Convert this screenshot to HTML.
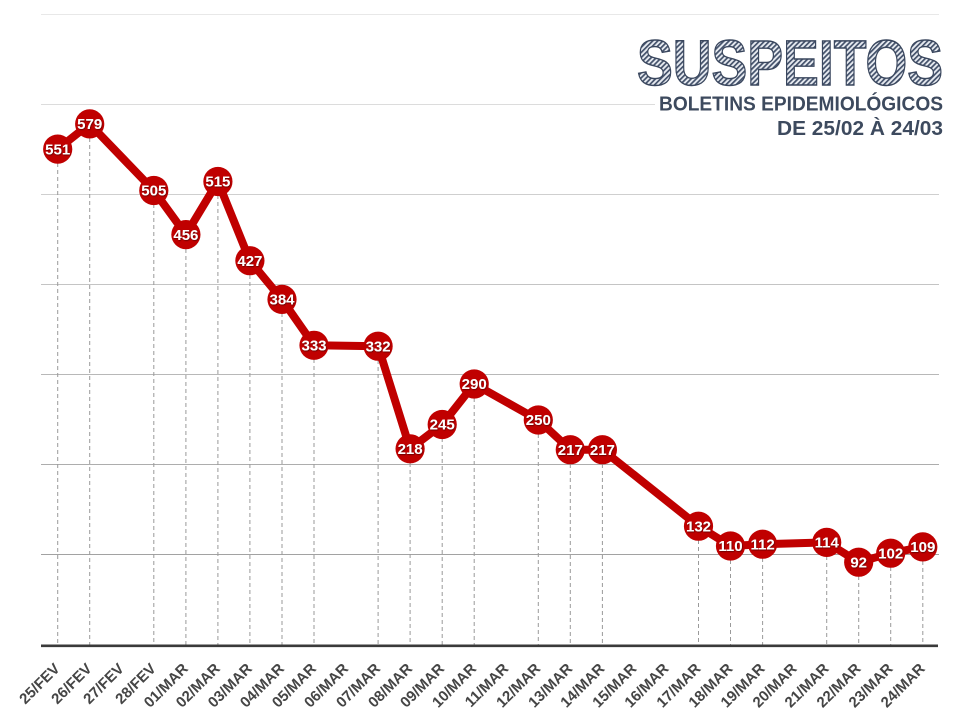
<!DOCTYPE html>
<html><head><meta charset="utf-8"><style>
html,body{margin:0;padding:0;background:#fff;}
svg{display:block;}
text{font-family:"Liberation Sans",Arial,sans-serif;font-weight:bold;}
.v{fill:#fff;font-size:15px;text-anchor:middle;}
.xl{fill:#454545;font-size:15px;text-anchor:end;}
</style></head><body>
<svg width="960" height="720" viewBox="0 0 960 720" xmlns="http://www.w3.org/2000/svg">
<defs>
<pattern id="hatch" width="3.6" height="3.6" patternUnits="userSpaceOnUse" patternTransform="rotate(45)">
<rect width="3.6" height="3.6" fill="#e6eaf0"/>
<rect width="1.7" height="3.6" fill="#44526b"/>
</pattern>
<filter id="sh" x="-20%" y="-20%" width="140%" height="140%"><feDropShadow dx="0.6" dy="0.8" stdDeviation="0.5" flood-color="#400" flood-opacity="0.8"/></filter>
</defs>
<rect width="960" height="720" fill="#fff"/>
<!-- grid -->
<g stroke-width="1">
<line x1="41" y1="14.5" x2="939" y2="14.5" stroke="#e8e8e8"/>
<line x1="41" y1="104.5" x2="939" y2="104.5" stroke="#dcdcdc"/>
<line x1="41" y1="194.5" x2="939" y2="194.5" stroke="#cfcfcf"/>
<line x1="41" y1="284.5" x2="939" y2="284.5" stroke="#c4c4c4"/>
<line x1="41" y1="374.5" x2="939" y2="374.5" stroke="#b8b8b8"/>
<line x1="41" y1="464.5" x2="939" y2="464.5" stroke="#adadad"/>
<line x1="41" y1="554.5" x2="939" y2="554.5" stroke="#a2a2a2"/>
</g>
<!-- dashed drop lines -->
<g stroke="#9a9a9a" stroke-width="1" stroke-dasharray="4,3">
<line x1="57.7" y1="149" x2="57.7" y2="645"/>
<line x1="89.7" y1="124" x2="89.7" y2="645"/>
<line x1="153.8" y1="190" x2="153.8" y2="645"/>
<line x1="185.9" y1="235" x2="185.9" y2="645"/>
<line x1="217.9" y1="181" x2="217.9" y2="645"/>
<line x1="249.9" y1="261" x2="249.9" y2="645"/>
<line x1="282" y1="299" x2="282" y2="645"/>
<line x1="314" y1="345" x2="314" y2="645"/>
<line x1="378.1" y1="346" x2="378.1" y2="645"/>
<line x1="410.1" y1="449" x2="410.1" y2="645"/>
<line x1="442.2" y1="424" x2="442.2" y2="645"/>
<line x1="474.2" y1="384" x2="474.2" y2="645"/>
<line x1="538.3" y1="420" x2="538.3" y2="645"/>
<line x1="570.3" y1="450" x2="570.3" y2="645"/>
<line x1="602.4" y1="450" x2="602.4" y2="645"/>
<line x1="698.5" y1="526" x2="698.5" y2="645"/>
<line x1="730.5" y1="546" x2="730.5" y2="645"/>
<line x1="762.6" y1="544" x2="762.6" y2="645"/>
<line x1="826.7" y1="542" x2="826.7" y2="645"/>
<line x1="858.7" y1="562" x2="858.7" y2="645"/>
<line x1="890.7" y1="553" x2="890.7" y2="645"/>
<line x1="922.8" y1="547" x2="922.8" y2="645"/>
</g>
<!-- baseline -->
<line x1="41" y1="645.8" x2="938" y2="645.8" stroke="#3a3a3a" stroke-width="2.6"/>
<!-- series line -->
<polyline fill="none" stroke="#c00000" stroke-width="8" stroke-linejoin="round" stroke-linecap="round"
points="57.7,149.1 89.7,123.9 153.8,190.5 185.9,234.6 217.9,181.5 249.9,260.7 282,299.4 314,345.3 378.1,346.2 410.1,448.8 442.2,424.5 474.2,384 538.3,420 570.3,449.7 602.4,449.7 698.5,526.2 730.5,546 762.6,544.2 826.7,542.4 858.7,562.2 890.7,553.2 922.8,546.9"/>
<!-- markers -->
<g fill="#c00000">
<circle cx="57.7" cy="149.1" r="14.6"/>
<circle cx="89.7" cy="123.9" r="14.6"/>
<circle cx="153.8" cy="190.5" r="14.6"/>
<circle cx="185.9" cy="234.6" r="14.6"/>
<circle cx="217.9" cy="181.5" r="14.6"/>
<circle cx="249.9" cy="260.7" r="14.6"/>
<circle cx="282" cy="299.4" r="14.6"/>
<circle cx="314" cy="345.3" r="14.6"/>
<circle cx="378.1" cy="346.2" r="14.6"/>
<circle cx="410.1" cy="448.8" r="14.6"/>
<circle cx="442.2" cy="424.5" r="14.6"/>
<circle cx="474.2" cy="384" r="14.6"/>
<circle cx="538.3" cy="420" r="14.6"/>
<circle cx="570.3" cy="449.7" r="14.6"/>
<circle cx="602.4" cy="449.7" r="14.6"/>
<circle cx="698.5" cy="526.2" r="14.6"/>
<circle cx="730.5" cy="546" r="14.6"/>
<circle cx="762.6" cy="544.2" r="14.6"/>
<circle cx="826.7" cy="542.4" r="14.6"/>
<circle cx="858.7" cy="562.2" r="14.6"/>
<circle cx="890.7" cy="553.2" r="14.6"/>
<circle cx="922.8" cy="546.9" r="14.6"/>
</g>
<g filter="url(#sh)">
<text class="v" x="57.7" y="154.3">551</text>
<text class="v" x="89.7" y="129.1">579</text>
<text class="v" x="153.8" y="195.7">505</text>
<text class="v" x="185.9" y="239.8">456</text>
<text class="v" x="217.9" y="186.7">515</text>
<text class="v" x="249.9" y="265.9">427</text>
<text class="v" x="282" y="304.6">384</text>
<text class="v" x="314" y="350.5">333</text>
<text class="v" x="378.1" y="351.4">332</text>
<text class="v" x="410.1" y="454">218</text>
<text class="v" x="442.2" y="429.7">245</text>
<text class="v" x="474.2" y="389.2">290</text>
<text class="v" x="538.3" y="425.2">250</text>
<text class="v" x="570.3" y="454.9">217</text>
<text class="v" x="602.4" y="454.9">217</text>
<text class="v" x="698.5" y="531.4">132</text>
<text class="v" x="730.5" y="551.2">110</text>
<text class="v" x="762.6" y="549.4">112</text>
<text class="v" x="826.7" y="547.6">114</text>
<text class="v" x="858.7" y="567.4">92</text>
<text class="v" x="890.7" y="558.4">102</text>
<text class="v" x="922.8" y="552.1">109</text>
</g>
<!-- x labels -->
<g>
<text class="xl" transform="translate(60.7,669.5) rotate(-45)">25/FEV</text>
<text class="xl" transform="translate(92.7,669.5) rotate(-45)">26/FEV</text>
<text class="xl" transform="translate(124.8,669.5) rotate(-45)">27/FEV</text>
<text class="xl" transform="translate(156.8,669.5) rotate(-45)">28/FEV</text>
<text class="xl" transform="translate(188.9,669.5) rotate(-45)">01/MAR</text>
<text class="xl" transform="translate(220.9,669.5) rotate(-45)">02/MAR</text>
<text class="xl" transform="translate(252.9,669.5) rotate(-45)">03/MAR</text>
<text class="xl" transform="translate(285,669.5) rotate(-45)">04/MAR</text>
<text class="xl" transform="translate(317,669.5) rotate(-45)">05/MAR</text>
<text class="xl" transform="translate(349.1,669.5) rotate(-45)">06/MAR</text>
<text class="xl" transform="translate(381.1,669.5) rotate(-45)">07/MAR</text>
<text class="xl" transform="translate(413.1,669.5) rotate(-45)">08/MAR</text>
<text class="xl" transform="translate(445.2,669.5) rotate(-45)">09/MAR</text>
<text class="xl" transform="translate(477.2,669.5) rotate(-45)">10/MAR</text>
<text class="xl" transform="translate(509.3,669.5) rotate(-45)">11/MAR</text>
<text class="xl" transform="translate(541.3,669.5) rotate(-45)">12/MAR</text>
<text class="xl" transform="translate(573.3,669.5) rotate(-45)">13/MAR</text>
<text class="xl" transform="translate(605.4,669.5) rotate(-45)">14/MAR</text>
<text class="xl" transform="translate(637.4,669.5) rotate(-45)">15/MAR</text>
<text class="xl" transform="translate(669.5,669.5) rotate(-45)">16/MAR</text>
<text class="xl" transform="translate(701.5,669.5) rotate(-45)">17/MAR</text>
<text class="xl" transform="translate(733.5,669.5) rotate(-45)">18/MAR</text>
<text class="xl" transform="translate(765.6,669.5) rotate(-45)">19/MAR</text>
<text class="xl" transform="translate(797.6,669.5) rotate(-45)">20/MAR</text>
<text class="xl" transform="translate(829.7,669.5) rotate(-45)">21/MAR</text>
<text class="xl" transform="translate(861.7,669.5) rotate(-45)">22/MAR</text>
<text class="xl" transform="translate(893.7,669.5) rotate(-45)">23/MAR</text>
<text class="xl" transform="translate(925.8,669.5) rotate(-45)">24/MAR</text>
</g>
<!-- title -->
<rect x="655" y="90" width="291" height="50" fill="#fff"/>
<text x="637" y="85" font-size="64" textLength="306" lengthAdjust="spacingAndGlyphs" fill="url(#hatch)" stroke="#3a475e" stroke-width="1.4">SUSPEITOS</text>
<text x="943" y="110.5" font-size="20" text-anchor="end" textLength="284" lengthAdjust="spacingAndGlyphs" fill="#3d4a5e">BOLETINS EPIDEMIOLÓGICOS</text>
<text x="943" y="135" font-size="20" text-anchor="end" textLength="166" lengthAdjust="spacingAndGlyphs" fill="#3d4a5e">DE 25/02 À 24/03</text>
</svg>
</body></html>
